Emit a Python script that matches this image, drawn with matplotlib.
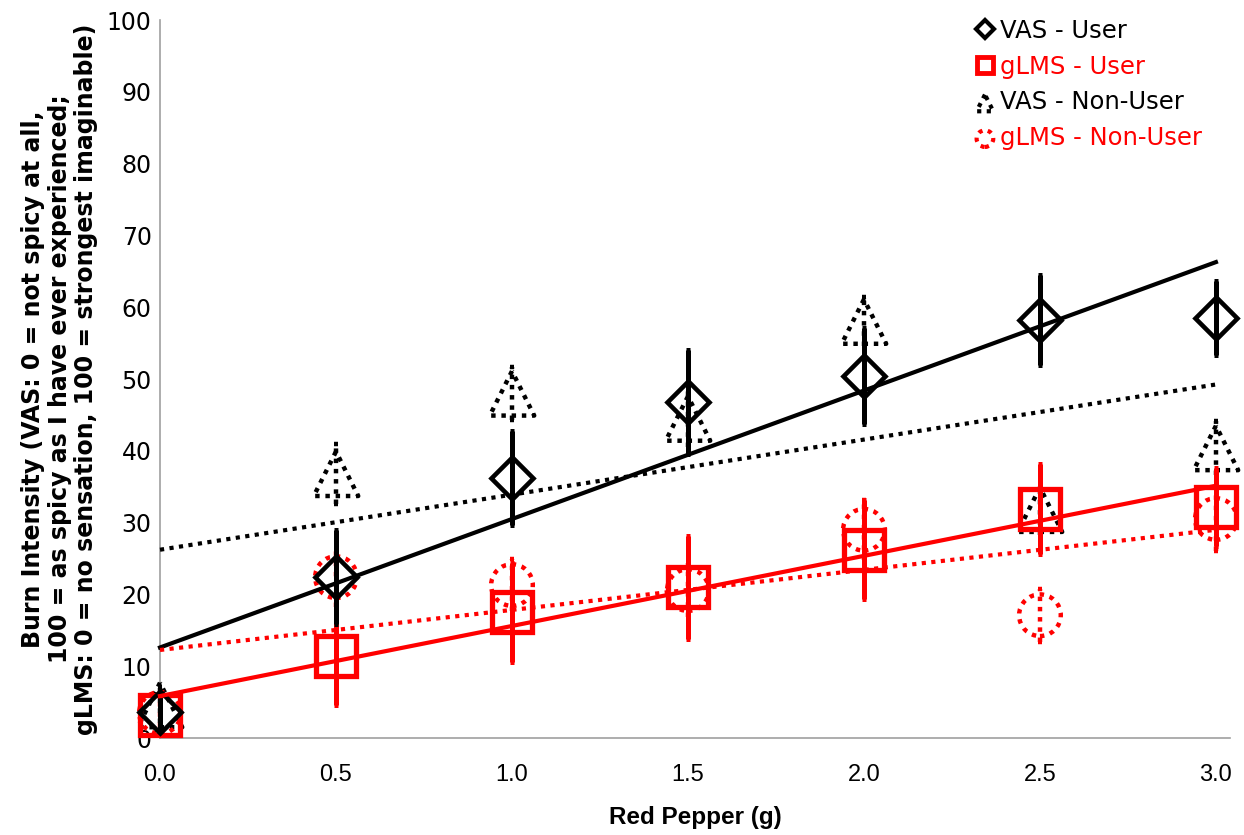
import numpy as np
import matplotlib
matplotlib.use("Agg")
import matplotlib.pyplot as plt
from matplotlib.lines import Line2D

# ---- data ----
x = [0.0, 0.5, 1.0, 1.5, 2.0, 2.5, 3.0]

vas_user = [3.6, 22.4, 36.2, 46.8, 50.4, 58.2, 58.5]
vas_user_err = [2.5, 6.5, 6.6, 7.3, 6.7, 6.3, 5.2]

glms_user = [3.2, 11.4, 17.5, 21.0, 26.2, 31.9, 32.2]
glms_user_err = [2.0, 6.8, 6.9, 7.2, 6.9, 6.3, 5.4]

vas_non = [4.6, 36.8, 48.0, 44.5, 58.0, 31.8, 40.4]
vas_non_err = [2.5, 4.2, 3.7, 4.0, 3.4, 3.5, 3.8]

glms_non = [3.5, 22.4, 21.3, 20.6, 29.0, 17.1, 30.5]
glms_non_err = [2.0, 4.2, 3.6, 3.8, 4.2, 3.7, 4.5]

labels = ["VAS - User", "gLMS - User", "VAS - Non-User", "gLMS - Non-User"]
xticks = [0.0, 0.5, 1.0, 1.5, 2.0, 2.5, 3.0]
yticks = list(range(0, 101, 10))

RED = "#FF0000"
BLK = "#000000"
DOT = (0, (1, 1.3))

plt.rcParams['font.family'] = ['Liberation Sans', 'DejaVu Sans']

fig = plt.figure(figsize=(12.44, 8.35), dpi=100)
ax = fig.add_axes([160 / 1244, 1 - 738 / 835, 1070 / 1244, 718 / 835])

xs = np.array(x)

def trend(vals, color, ls, lw):
    k, b = np.polyfit(xs, np.array(vals), 1)
    xx = np.array([0.0, 3.0])
    ax.plot(xx, k * xx + b, color=color, ls=ls, lw=lw, zorder=5, clip_on=False)

# Non-user error bars (dotted)
for vals, err, col in [(vas_non, vas_non_err, BLK), (glms_non, glms_non_err, RED)]:
    eb = ax.errorbar(x, vals, yerr=err, fmt='none', ecolor=col, elinewidth=3.2,
                     capsize=1.2, capthick=3.2, zorder=3)
    for lc in eb[2]:
        lc.set_linestyle(DOT)
        lc.set_clip_on(False)
    for cl in eb[1]:
        cl.set_clip_on(False)

ax.scatter(x, vas_non, s=32**2, marker='^', facecolors='none', edgecolors=BLK,
           linewidths=3.2, linestyle=DOT, zorder=3, clip_on=False)
ax.scatter(x, glms_non, s=30**2, marker='o', facecolors='none', edgecolors=RED,
           linewidths=3.2, linestyle=DOT, zorder=3, clip_on=False)

# User error bars and markers
for vals, err, col in [(glms_user, glms_user_err, RED), (vas_user, vas_user_err, BLK)]:
    eb = ax.errorbar(x, vals, yerr=err, fmt='none', ecolor=col, elinewidth=3.6,
                     capsize=1.4, capthick=3.6, zorder=4)
    for lc in eb[2]:
        lc.set_clip_on(False)
    for cl in eb[1]:
        cl.set_clip_on(False)
ax.plot(x, glms_user, ls='none', marker='s', ms=29, mfc='none', mec=RED, mew=3.8,
        zorder=4, clip_on=False)
ax.plot(x, vas_user, ls='none', marker='D', ms=21.5, mfc='none', mec=BLK, mew=3.3,
        zorder=4, clip_on=False)

# Trend lines
trend(vas_user, BLK, '-', 3.0)
trend(glms_user, RED, '-', 3.0)
trend(vas_non, BLK, DOT, 3.0)
trend(glms_non, RED, DOT, 3.0)

ax.set_xlim(0, 3.04)
ax.set_ylim(0, 100)
ax.set_xticks(xticks)
ax.set_xticklabels([f"{v:.1f}" for v in xticks])
ax.set_yticks(yticks)
ax.tick_params(axis='x', length=0, labelsize=17, pad=19)
ax.tick_params(axis='y', length=0, labelsize=17, pad=6)
for lab in ax.get_yticklabels():
    lab.set_family('DejaVu Sans')
for sp in ['top', 'right']:
    ax.spines[sp].set_visible(False)
for sp in ['left', 'bottom']:
    ax.spines[sp].set_color('#A0A0A0')
    ax.spines[sp].set_linewidth(1.2)
    ax.spines[sp].set_zorder(0)

ax.set_xlabel("Red Pepper (g)", fontsize=17.5, fontweight='bold', labelpad=14)
ax.set_ylabel("Burn Intensity (VAS: 0 = not spicy at all,\n100 = as spicy as I have ever experienced;\n"
              "gLMS: 0 = no sensation, 100 = strongest imaginable)",
              fontsize=17, fontweight='bold', family=['DejaVu Sans'],
              linespacing=1.15, labelpad=6)

# Legend
h1 = Line2D([], [], ls='none', marker='D', ms=9, mfc='none', mec=BLK, mew=3)
h2 = Line2D([], [], ls='none', marker='s', ms=11, mfc='none', mec=RED, mew=3.5)
h3 = ax.scatter([], [], s=12**2, marker='^', facecolors='none', edgecolors=BLK,
                linewidths=3, linestyle=DOT)
h4 = ax.scatter([], [], s=12**2, marker='o', facecolors='none', edgecolors=RED,
                linewidths=3, linestyle=DOT)
leg = fig.legend([h1, h2, h3, h4], labels, loc='upper left', bbox_to_anchor=(974 / 1244, 1 - 19 / 835),
                 frameon=False, handlelength=0.9, handletextpad=0.15,
                 labelspacing=0.48, labelcolor=[BLK, RED, BLK, RED], borderaxespad=0.0,
                 borderpad=0.0, prop={'family': 'DejaVu Sans', 'size': 17.5})

fig.savefig("out.png", dpi=100)
